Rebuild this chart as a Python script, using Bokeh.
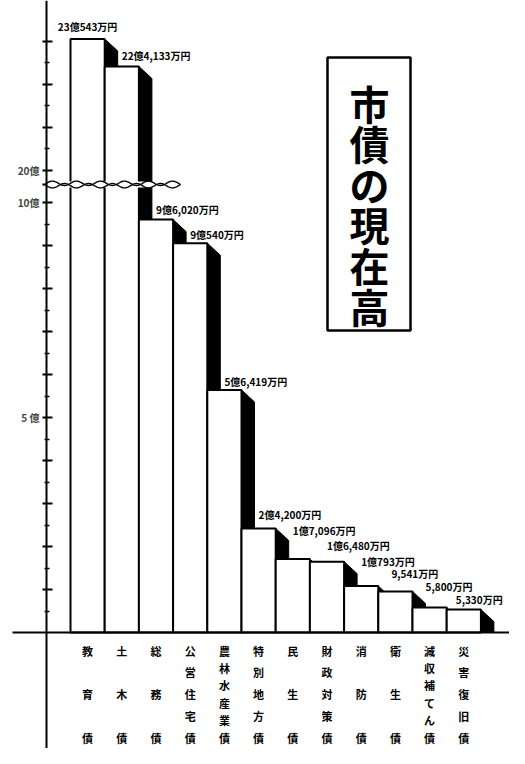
import numpy as np
from bokeh.plotting import figure
from bokeh.models import LinearAxis, FixedTicker, Range1d
from bokeh.embed import file_html
from bokeh.resources import INLINE
from bokeh.core.properties import value

# ---------------- data ----------------
categories = ["教育債", "土木債", "総務債", "公営住宅債", "農林水産業債", "特別地方債",
              "民生債", "財政対策債", "消防債", "衛生債", "減収補てん債", "災害復旧債"]
amounts_man_yen = [230543, 224133, 96020, 90540, 56419, 24200,
                   17096, 16480, 10793, 9541, 5800, 5330]
axis_tick_values_oku = [5, 10, 20]
axis_tick_labels = ["5 億", "10億", "20億"]
title_text = "市債の現在高"

# ---------------- layout helpers ----------------
FONT = value("Noto Sans CJK JP")
BREAK_LOW, BREAK_HIGH, BREAK_SHIFT = 10, 20, 9.25
PXX, X0 = 34.2, 78.0      # px per bar, page x of first bar's left edge
PXY, Y0 = 43.0, 640.0     # px per 億, page y of baseline


def t(v):
    """broken-axis transform (億 -> plotted units)"""
    return v if v <= BREAK_LOW else v - BREAK_SHIFT


def px(xp):
    return (xp - X0) / PXX


def py(yp):
    return (Y0 - yp) / PXY


def fmt(v):
    oku, man = divmod(v, 10000)
    return (f"{oku}億{man:,}万円" if oku else f"{man:,}万円")


values_oku = [a / 10000 for a in amounts_man_yen]
tops = [t(v) for v in values_oku]
n = len(categories)
lefts = list(range(n))
rights = [l + 1 for l in lefts]

p = figure(width=509, height=748, x_range=Range1d(px(8), px(517)),
           y_range=Range1d(py(756), py(8)), toolbar_location=None,
           output_backend="svg", x_axis_location=None, y_axis_location=None,
           min_border=0)
p.outline_line_color = None
p.grid.grid_line_color = None
p.background_fill_color = "white"

# shadows (3D side faces)
dx, dy = 13 / PXX, 12 / PXY
sx = [[r, r + dx, r + dx, r] for r in rights]
sy = [[tp, tp - dy, 0, 0] for tp in tops]
p.patches(sx, sy, fill_color="black", line_color="black", line_width=1)

# bars
p.quad(left=lefts, right=rights, bottom=0, top=tops, fill_color="white",
       line_color="black", line_width=2)

# break marker
xw = np.linspace(px(50), px(188), 200)
xpix = xw * PXX
c = py(192)
amp = 2.2 / PXY
ph = 2 * np.pi * xpix / 24.0
p.line(xw, c + 0.0 * xw, line_color="white", line_width=6)
p.line(xw, c + 1.2 / PXY + amp * np.sin(ph), line_color="black", line_width=1.4)
p.line(xw, c - 1.2 / PXY + amp * np.sin(ph + np.pi), line_color="black", line_width=1.4)

# baseline
p.segment(x0=[px(20)], y0=[0], x1=[px(520)], y1=[0], line_color="black", line_width=2)

# y axis with broken scale
major = [t(v) for v in range(1, 11)] + [t(v) for v in range(20, 24)]
minor = [t(v + 0.5) for v in range(0, 10)] + [t(v + 0.5) for v in range(20, 23)]
overrides = {m: "" for m in major}
for v, lab in zip(axis_tick_values_oku, axis_tick_labels):
    overrides[t(v)] = lab
ax = LinearAxis(ticker=FixedTicker(ticks=major, minor_ticks=minor),
                fixed_location=px(54), major_label_overrides=overrides)
ax.axis_line_width = 2
ax.major_tick_in, ax.major_tick_out = 6, 4
ax.minor_tick_in, ax.minor_tick_out = 3, 2
ax.major_tick_line_width = 2
ax.minor_tick_line_width = 1.5
ax.major_label_text_font = "Noto Sans CJK JP"
ax.major_label_text_font_style = "bold"
ax.major_label_text_font_size = "10px"
ax.major_label_standoff = 3
p.add_layout(ax, "left")

# value labels
label_offsets_px = [12, 11, 10, 9, 8, 14, 28, 16, 25, 18, 21, 10]
label_shift_px = [0, 0, 0, 0, 0, 0, 0, 0, 0, -4, -4, -8]
lx = [l + 0.5 + s / PXX for l, s in zip(lefts, label_shift_px)]
ly = [tp + off / PXY for tp, off in zip(tops, label_offsets_px)]
texts = [fmt(a) for a in amounts_man_yen]
p.text(x=lx[:1], y=ly[:1], text=texts[:1], text_font=FONT, text_font_style="bold",
       text_font_size="10px", text_align="center", text_baseline="middle")
p.text(x=lx[1:], y=ly[1:], text=texts[1:], text_font=FONT, text_font_style="bold",
       text_font_size="10px", text_align="left", text_baseline="middle")

# category labels (vertical)
cx, cy, ct = [], [], []
for i, s in enumerate(categories):
    k = len(s)
    for j, ch in enumerate(s):
        cx.append(i + 0.5)
        cy.append(py(658 + j * (745 - 658) / (k - 1)))
        ct.append(ch)
p.text(x=cx, y=cy, text=ct, text_font=FONT, text_font_style="bold",
       text_font_size="11px", text_align="center", text_baseline="middle")

# title box
p.quad(left=[px(335)], right=[px(418)], top=[py(65)], bottom=[py(338)],
       fill_color=None, line_color="black", line_width=2.5)
ty = [py(110 + 40.6 * j) for j in range(len(title_text))]
p.text(x=[px(377)] * len(title_text), y=ty, text=list(title_text), text_font=FONT,
       text_font_style="bold", text_font_size="40px", text_align="center",
       text_baseline="middle")

open("out.html", "w").write(file_html(p, INLINE))
